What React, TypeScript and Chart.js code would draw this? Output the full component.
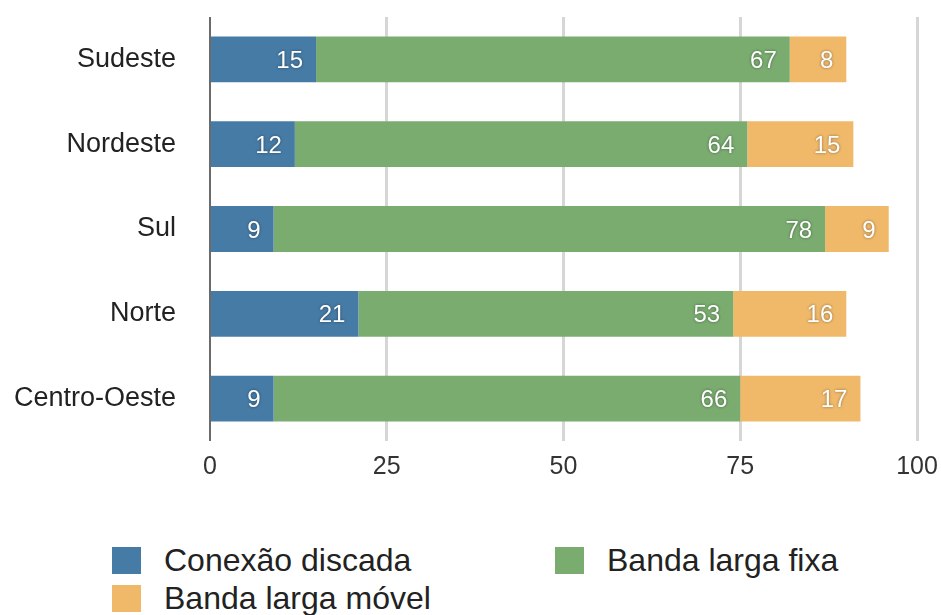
import React, { useEffect, useRef } from "react";
import { Chart, registerables } from "chart.js";

Chart.register(...registerables);

const regions = ["Sudeste", "Nordeste", "Sul", "Norte", "Centro-Oeste"];
const discada = [15, 12, 9, 21, 9];
const fixa = [67, 64, 78, 53, 66];
const movel = [8, 15, 9, 16, 17];
const xTicks = [0, 25, 50, 75, 100];
const seriesNames = ["Conexão discada", "Banda larga fixa", "Banda larga móvel"];
const colors = ["#467ba6", "#7aac70", "#f0b96a"];

const FONT = "'Liberation Sans', Arial, Helvetica, sans-serif";

const valueLabels = {
  id: "valueLabels",
  afterDatasetsDraw(chart: any) {
    const ctx = chart.ctx;
    ctx.save();
    ctx.font = `24px ${FONT}`;
    ctx.fillStyle = "#ffffff";
    ctx.textAlign = "right";
    ctx.textBaseline = "middle";
    ctx.shadowColor = "rgba(0,0,0,0.45)";
    ctx.shadowBlur = 3;
    chart.data.datasets.forEach((ds: any, di: number) => {
      const meta = chart.getDatasetMeta(di);
      meta.data.forEach((el: any, i: number) => {
        const v = ds.data[i];
        ctx.fillText(String(v), el.x - 13, el.y + 2);
      });
    });
    ctx.restore();
  },
};

export default function App() {
  const ref = useRef<HTMLCanvasElement>(null);
  useEffect(() => {
    const chart = new Chart(ref.current!, {
      type: "bar",
      data: {
        labels: regions,
        datasets: [discada, fixa, movel].map((d, i) => ({
          label: seriesNames[i],
          data: d,
          backgroundColor: colors[i],
          borderWidth: 0,
          categoryPercentage: 1,
          barPercentage: 0.54,
        })),
      },
      options: {
        indexAxis: "y",
        responsive: false,
        animation: false,
        layout: { padding: { top: 17, right: 24, left: 0, bottom: 0 } },
        plugins: { legend: { display: false }, tooltip: { enabled: false } },
        scales: {
          x: {
            stacked: true,
            min: 0,
            max: 100,
            afterBuildTicks: (s: any) => {
              s.ticks = xTicks.map((v) => ({ value: v }));
            },
            afterFit: (s: any) => {
              s.height = 59;
              s.paddingLeft = 0;
              s.paddingRight = 0;
            },
            grid: {
              drawTicks: false,
              color: (c: any) => (c.tick && c.tick.value === 0 ? "#6b6b6b" : "#d6d6d6"),
              lineWidth: (c: any) => (c.tick && c.tick.value === 0 ? 2 : 3),
            },
            border: { display: false },
            ticks: {
              padding: 11,
              color: "#333",
              font: { family: FONT, size: 25 },
            },
          },
          y: {
            stacked: true,
            afterFit: (s: any) => {
              s.width = 210;
              s.paddingTop = 0;
              s.paddingBottom = 0;
            },
            grid: { display: false, drawTicks: false },
            border: { display: false },
            ticks: {
              padding: 34,
              color: "#222",
              font: { family: FONT, size: 27 },
            },
          },
        },
      },
      plugins: [valueLabels],
    } as any);
    return () => chart.destroy();
  }, []);

  const legendItem = (i: number, left: number, top: number) => (
    <div
      key={i}
      style={{
        position: "absolute",
        left,
        top,
        height: 27,
        display: "flex",
        alignItems: "center",
        fontFamily: FONT,
        fontSize: 32,
        color: "#222",
        whiteSpace: "nowrap",
      }}
    >
      <span
        style={{
          display: "inline-block",
          width: 29,
          height: 27,
          background: colors[i],
          marginRight: 23,
          flex: "none",
        }}
      />
      <span style={{ lineHeight: "27px" }}>{seriesNames[i]}</span>
    </div>
  );

  return (
    <div
      style={{
        position: "fixed",
        left: 0,
        top: 0,
        width: 941,
        height: 615,
        background: "#fff",
        overflow: "hidden",
      }}
    >
      <canvas ref={ref} width={941} height={500} style={{ position: "absolute", left: 0, top: 0 }} />
      {legendItem(0, 112, 547)}
      {legendItem(1, 555, 547)}
      {legendItem(2, 112, 585)}
    </div>
  );
}
